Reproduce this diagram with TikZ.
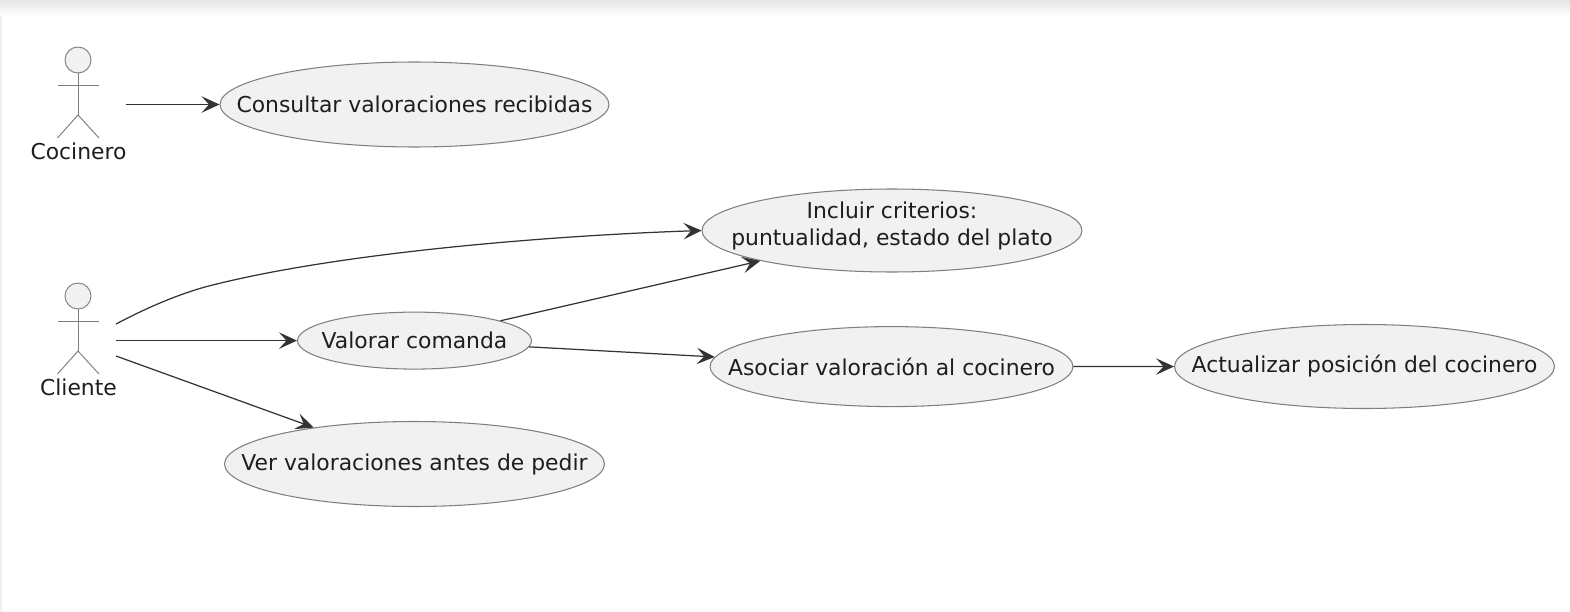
\documentclass[tikz,border=0pt]{standalone}
\usepackage{fontspec}
\setmainfont{DejaVu Sans}
\usetikzlibrary{shapes.geometric, positioning, arrows.meta}
\definecolor{UmlFill}{HTML}{F1F1F1}
\definecolor{UmlLine}{HTML}{7F7F7F}
\definecolor{UmlArrow}{HTML}{333333}
\definecolor{UmlText}{HTML}{1E1E1E}
\definecolor{BandGray}{HTML}{E6E6E6}
\definecolor{EdgeGray}{HTML}{F0F0F0}

\begin{document}
\begin{tikzpicture}[
                x=0.02cm, y=-0.02cm,
                usecase/.style={ellipse, draw=UmlLine, line width=0.6pt, fill=UmlFill, inner ysep=0pt, inner xsep=-1.5cm, text=UmlText, align=center, font=\fontsize{12.45}{15.4}\selectfont},
                actorhead/.style={circle, draw=UmlLine, line width=0.55pt, fill=UmlFill, inner sep=0pt, minimum size=0.52cm},
                actorname/.style={text=UmlText, inner sep=0pt, font=\fontsize{12.45}{14}\selectfont},
                limb/.style={draw=UmlLine, line width=0.55pt},
                conn/.style={-{Stealth[length=0.36cm, width=0.33cm, inset=0.15cm]}, UmlArrow, line width=0.7pt}
            ]
                \useasboundingbox (0,0) rectangle (1570,612);

                % Window edge
                \shade[top color=BandGray, bottom color=white] (0,0) rectangle (1570,16);
                \fill[EdgeGray] (0,16) rectangle (2,612);

                % Actors
                \foreach \name/\label/\dy in {cocinero/Cocinero/0, cliente/Cliente/236} {
                    \node[actorhead] (\name head) at (78,60+\dy) {};
                    \draw[limb] (\name head.south) -- (78,115+\dy);
                    \draw[limb] (57.5,85+\dy) -- (99,85+\dy);
                    \draw[limb] (57.5,138+\dy) -- (78,115+\dy) -- (99,138+\dy);
                    \node[actorname] (\name) at (78.5,151.5+\dy) {\label};
                }
                \coordinate (cocineroOut) at (126,104.5);
                \coordinate (clienteUp) at (116,324);
                \coordinate (clienteMid) at (116,340.6);
                \coordinate (clienteLow) at (116,356);

                % Use cases
                \node[usecase, minimum width=7.78cm, minimum height=1.7cm] (consultar) at (414.5,104.5) {Consultar valoraciones recibidas};
                \node[usecase, minimum width=7.6cm, minimum height=1.66cm] (incluir) at (892,230.5) {Incluir criterios:\\puntualidad, estado del plato\\[-0.28cm]\mbox{}};
                \node[usecase, minimum width=4.68cm, minimum height=1.14cm] (valorar) at (414.5,340.6) {Valorar comanda};
                \node[usecase, minimum width=7.26cm, minimum height=1.6cm] (asociar) at (891.5,366.6) {Asociar valoración al cocinero};
                \node[usecase, minimum width=7.6cm, minimum height=1.68cm] (actualizar) at (1364.5,366.5) {Actualizar posición del cocinero};
                \node[usecase, minimum width=7.6cm, minimum height=1.7cm] (ver) at (414.5,464) {Ver valoraciones antes de pedir};

                % Connections
                \draw[conn] (cocineroOut) -- (consultar);
                \draw[conn] (clienteUp) .. controls (150,306) and (180,294) .. (205,287) .. controls (330,254) and (540,236) .. (incluir.west);
                \draw[conn] (clienteMid) -- (valorar);
                \draw[conn] (clienteLow) -- (ver);
                \draw[conn] (valorar) -- (incluir);
                \draw[conn] (valorar) -- (asociar);
                \draw[conn] (asociar) -- (actualizar);
            \end{tikzpicture}
\end{document}
